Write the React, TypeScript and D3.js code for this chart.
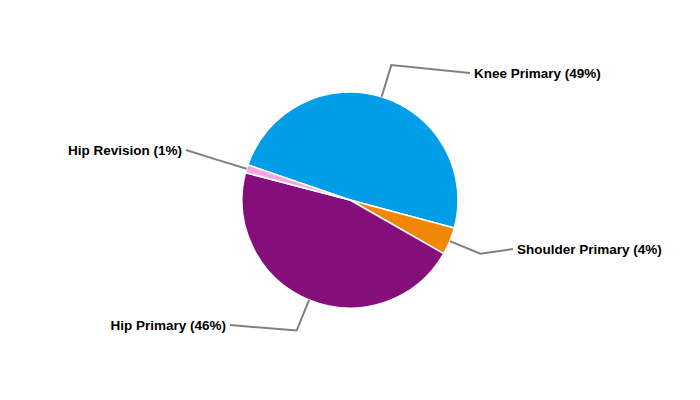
import { useEffect } from 'react'
import * as d3 from 'd3'

// ── data ─────────────────────────────────────────────────────────────────────
const categories = ['Knee Primary', 'Shoulder Primary', 'Hip Primary', 'Hip Revision']
const counts     = [489, 41, 458, 12]
const colors     = ['#009de8', '#f28705', '#850e7b', '#f4a6e4']

// label anchor (end of leader line), relative to the pie centre
const labelPos: [number, number][] = [[120, -127], [163, 49], [-120, 125], [-164, -50]]

const W = 700, H = 400
const CX = 350, CY = 200, R = 108
const START = (-71 * Math.PI) / 180

export default function App() {
  useEffect(() => { document.body.style.margin = '0' }, [])

  const total = d3.sum(counts)
  const pie = d3.pie<number>().sort(null).startAngle(START).endAngle(START + 2 * Math.PI)
  const arcs = pie(counts)
  const arc = d3.arc<d3.PieArcDatum<number>>().innerRadius(0).outerRadius(R)
  const edge = d3.arc<d3.PieArcDatum<number>>().innerRadius(R).outerRadius(R)
  const elbow = d3.arc<d3.PieArcDatum<number>>().innerRadius(R * 1.306).outerRadius(R * 1.306)

  return (
    <svg width={W} height={H} style={{ display: 'block', fontFamily: '"Liberation Sans", Arial, sans-serif' }}>
      <g transform={`translate(${CX},${CY})`}>
        {arcs.map((a, i) => (
          <path key={categories[i]} d={arc(a) ?? ''} fill={colors[i]} stroke="#fff" strokeWidth={1.5} />
        ))}
        {arcs.map((a, i) => {
          const mid = { ...a, startAngle: (a.startAngle + a.endAngle) / 2, endAngle: (a.startAngle + a.endAngle) / 2 }
          const p0 = edge.centroid(mid)
          const p1 = elbow.centroid(mid)
          const p2 = labelPos[i]
          const right = p2[0] > 0
          const pct = Math.round((counts[i] / total) * 100)
          return (
            <g key={categories[i]}>
              <polyline points={[p0, p1, p2].map(p => p.join(',')).join(' ')}
                fill="none" stroke="#808080" strokeWidth={2} />
              <text x={p2[0] + (right ? 4 : -4)} y={p2[1]} dy="0.35em"
                textAnchor={right ? 'start' : 'end'} fontSize={13.5} fontWeight="bold" fill="#000">
                {`${categories[i]} (${pct}%)`}
              </text>
            </g>
          )
        })}
      </g>
    </svg>
  )
}
